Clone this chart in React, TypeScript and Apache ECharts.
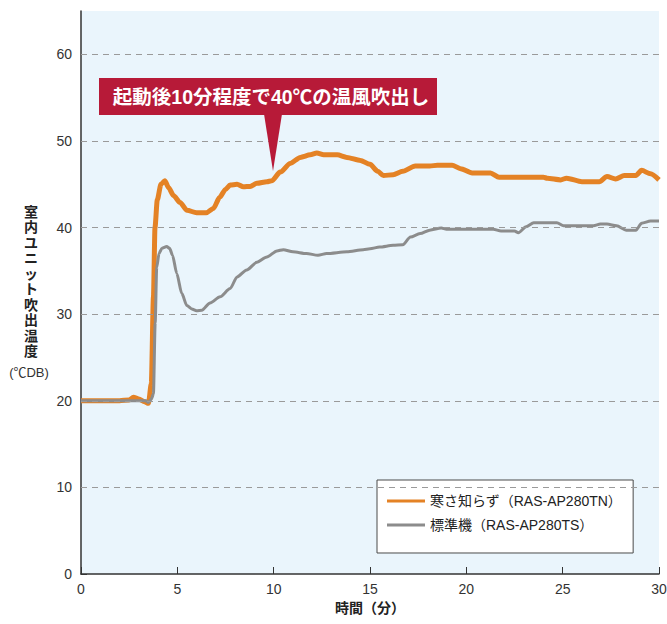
import React, { useEffect, useRef } from 'react';
import * as echarts from 'echarts';

const seriesNames = ['寒さ知らず（RAS-AP280TN）', '標準機（RAS-AP280TS）'];

const orangeT = [0, 1, 2, 2.5, 2.72, 3.0, 3.3, 3.5, 3.65, 3.76, 3.84, 3.96, 4.15, 4.35, 4.55, 4.8, 5.14, 5.5, 6.0, 6.5, 6.87, 7.2, 7.5, 7.74, 8.1, 8.43, 8.78, 9.13, 9.65, 9.9, 10.34, 10.86, 11.38, 11.9, 12.24, 12.6, 13.3, 13.8, 14.5, 15.0, 15.4, 15.7, 16.2, 16.7, 17.35, 18.1, 18.5, 19.26, 19.7, 20.3, 21.25, 21.7, 24.0, 24.2, 24.9, 25.2, 26.0, 26.9, 27.3, 27.75, 28.2, 28.8, 29.1, 29.56, 30];
const orangeV = [20, 20, 20, 20.1, 20.4, 20.2, 19.9, 19.7, 22, 32, 40, 43.2, 45.0, 45.4, 44.6, 43.7, 42.9, 42.0, 41.7, 41.7, 42.2, 43.5, 44.4, 44.9, 45.0, 44.7, 44.75, 45.1, 45.3, 45.4, 46.4, 47.4, 48.1, 48.4, 48.6, 48.4, 48.4, 48.1, 47.75, 47.3, 46.5, 46.0, 46.1, 46.5, 47.1, 47.1, 47.2, 47.2, 46.8, 46.3, 46.3, 45.8, 45.8, 45.7, 45.5, 45.7, 45.3, 45.3, 45.9, 45.6, 46.0, 46.0, 46.6, 46.2, 45.5];

const grayT = [0, 1, 2, 3, 3.35, 3.5, 3.65, 3.76, 3.85, 3.93, 4.05, 4.2, 4.45, 4.6, 4.75, 4.97, 5.23, 5.49, 5.75, 6.0, 6.27, 6.7, 7.22, 7.74, 8.1, 8.6, 9.13, 9.65, 10.17, 10.5, 11.0, 11.7, 12.3, 12.75, 13.8, 14.65, 15.0, 15.5, 16.2, 16.7, 17.1, 17.6, 18.1, 18.7, 18.97, 20.4, 21.4, 21.8, 22.5, 22.7, 23.1, 23.5, 24.7, 25.05, 26.6, 26.96, 27.3, 27.8, 28.3, 28.8, 29.1, 29.56, 30];
const grayV = [20, 20, 20, 20, 20, 19.8, 20.2, 20.8, 29, 35.4, 37.0, 37.6, 37.8, 37.6, 36.8, 34.7, 32.4, 31.0, 30.6, 30.4, 30.45, 31.3, 32.0, 32.95, 34.3, 35.1, 36.0, 36.6, 37.3, 37.45, 37.2, 37.0, 36.8, 37.0, 37.2, 37.45, 37.55, 37.75, 37.95, 38.0, 38.9, 39.3, 39.7, 39.95, 39.8, 39.8, 39.8, 39.6, 39.6, 39.4, 40.1, 40.55, 40.55, 40.2, 40.2, 40.4, 40.4, 40.2, 39.7, 39.7, 40.5, 40.75, 40.75];

const yTicks = [0, 10, 20, 30, 40, 50, 60];
const yGridValues = [10, 20, 30, 40, 50, 60];

const FONT = "'Liberation Sans', 'Noto Sans CJK JP', sans-serif";
const ORANGE = '#E48225';
const GRAY = '#8C8C8C';

export default function App() {
  const ref = useRef<HTMLDivElement>(null);
  useEffect(() => {
    if (!ref.current) return;
    const chart = echarts.init(ref.current, null, { renderer: 'svg' });
    const orangeData = orangeT.map((t, i) => [t, orangeV[i]]);
    const grayData = grayT.map((t, i) => [t, grayV[i]]);
    chart.setOption({
      animation: false,
      textStyle: { fontFamily: FONT },
      grid: {
        left: 81, right: 8, top: 11, bottom: 50,
        show: true, backgroundColor: '#EAF5FC', borderWidth: 0,
        outerBoundsMode: 'none',
      },
      xAxis: {
        type: 'value', min: 0, max: 30, interval: 5,
        name: '時間（分）', nameLocation: 'middle', nameGap: 27,
        nameTextStyle: { fontSize: 14, fontWeight: 'bold', color: '#222', fontFamily: FONT },
        axisLine: { show: true, lineStyle: { color: '#333', width: 1.5 } },
        axisTick: { show: true, inside: true, length: 7, lineStyle: { color: '#333', width: 1 } },
        axisLabel: { fontSize: 14, color: '#333', margin: 8, fontFamily: FONT, showMaxLabel: true },
        splitLine: { show: false },
      },
      yAxis: {
        type: 'value', min: 0, max: 65, interval: 10,
        axisLine: { show: true, lineStyle: { color: '#333', width: 1.5 } },
        axisTick: { show: true, inside: true, length: 6, customValues: yTicks, lineStyle: { color: '#333', width: 1 } },
        axisLabel: { fontSize: 14, color: '#333', margin: 9, customValues: yTicks, fontFamily: FONT },
        splitLine: { show: false },
      },
      legend: {
        orient: 'vertical', left: 377, top: 480,
        data: seriesNames.map((n) => ({ name: n, icon: 'rect' })),
        itemWidth: 38, itemHeight: 3, itemGap: 10,
        padding: [14, 11, 21, 10],
        backgroundColor: '#fff', borderColor: '#4a4a4a', borderWidth: 1,
        textStyle: { fontSize: 14, color: '#222', fontFamily: FONT },
      },
      series: [
        {
          type: 'line', data: [], z: 1, silent: true,
          markLine: {
            silent: true, symbol: 'none', label: { show: false },
            lineStyle: { type: [6, 5], color: '#9A9A9A', width: 1.2 },
            data: yGridValues.map((v) => ({ yAxis: v })),
          },
        },
        {
          name: seriesNames[0], type: 'line', data: orangeData, showSymbol: false, symbol: 'none',
          smooth: 0.25, smoothMonotone: 'x', z: 3,
          lineStyle: { color: ORANGE, width: 5 }, itemStyle: { color: ORANGE },
        },
        {
          name: seriesNames[1], type: 'line', data: grayData, showSymbol: false, symbol: 'none',
          smooth: 0.25, smoothMonotone: 'x', z: 4,
          lineStyle: { color: GRAY, width: 3 }, itemStyle: { color: GRAY },
        },
      ],
      graphic: [
        {
          type: 'text', x: 31, y: 204,
          style: {
            text: '室\n内\nユ\nニ\nッ\nト\n吹\n出\n温\n度',
            fontSize: 14, fontWeight: 'bold', lineHeight: 15.5, fill: '#222', fontFamily: FONT,
            align: 'center', verticalAlign: 'top',
          },
        },
        {
          type: 'text', x: 29, y: 372,
          style: { text: '(℃DB)', fontSize: 13, fill: '#333', align: 'center', verticalAlign: 'middle', fontFamily: FONT },
        },
        {
          type: 'rect', shape: { x: 99, y: 78, width: 338, height: 37 },
          style: { fill: '#B71A38' }, z: 10,
        },
        {
          type: 'polygon', shape: { points: [[264, 114], [282, 114], [273, 171]] },
          style: { fill: '#B71A38' }, z: 10,
        },
        {
          type: 'text', x: 271, y: 97, z: 11,
          style: {
            text: '起動後10分程度で40℃の温風吹出し', fontSize: 19.5, fontWeight: 'bold', fill: '#fff',
            align: 'center', verticalAlign: 'middle', fontFamily: FONT,
          },
        },
      ],
    });
    return () => chart.dispose();
  }, []);
  return <div ref={ref} style={{ position: 'absolute', left: 0, top: 0, width: 667, height: 624 }} />;
}
